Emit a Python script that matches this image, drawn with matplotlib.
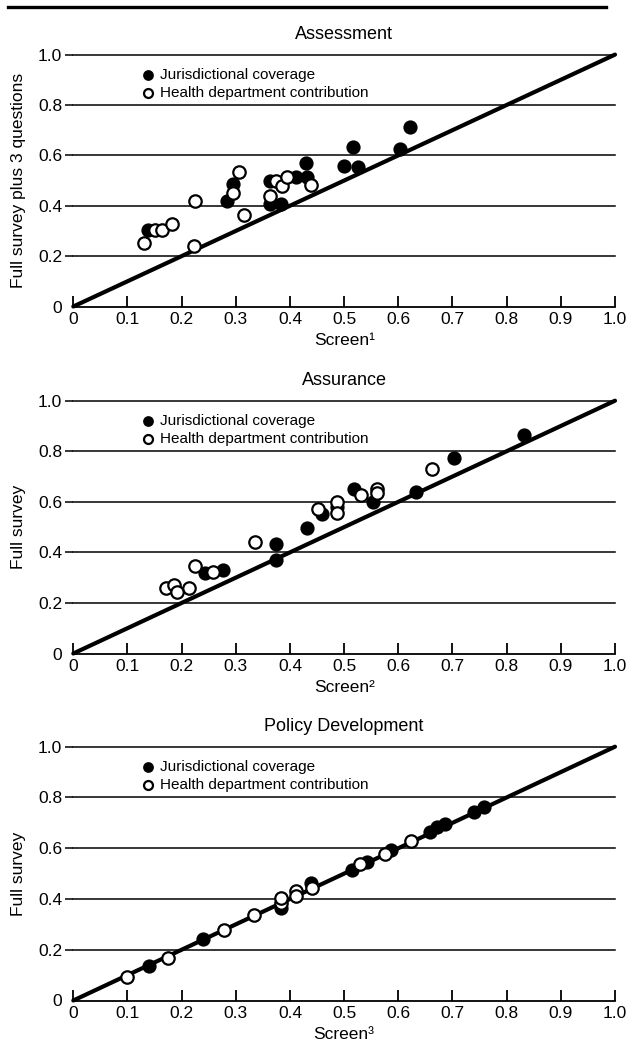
import matplotlib.pyplot as plt

plt.rcParams['font.family'] = ['Liberation Sans', 'DejaVu Sans']

# Assessment
a_jur_x = [0.138, 0.283, 0.295, 0.364, 0.364, 0.383, 0.412, 0.430, 0.431, 0.500, 0.517, 0.525, 0.603, 0.622]
a_jur_y = [0.305, 0.419, 0.485, 0.498, 0.406, 0.406, 0.514, 0.571, 0.514, 0.558, 0.632, 0.553, 0.624, 0.712]
a_hd_x = [0.131, 0.151, 0.163, 0.183, 0.223, 0.225, 0.295, 0.306, 0.315, 0.364, 0.374, 0.385, 0.394, 0.439]
a_hd_y = [0.253, 0.305, 0.305, 0.326, 0.240, 0.419, 0.452, 0.534, 0.365, 0.440, 0.498, 0.477, 0.516, 0.481]

# Assurance
s_jur_x = [0.243, 0.277, 0.374, 0.374, 0.432, 0.460, 0.487, 0.518, 0.553, 0.633, 0.702, 0.832]
s_jur_y = [0.318, 0.331, 0.370, 0.432, 0.496, 0.552, 0.581, 0.651, 0.601, 0.637, 0.773, 0.865]
s_hd_x = [0.171, 0.185, 0.192, 0.214, 0.225, 0.257, 0.335, 0.452, 0.487, 0.487, 0.532, 0.560, 0.560, 0.662]
s_hd_y = [0.258, 0.271, 0.245, 0.258, 0.348, 0.324, 0.440, 0.571, 0.601, 0.555, 0.628, 0.651, 0.634, 0.731]

# Policy Development
p_jur_x = [0.140, 0.239, 0.383, 0.438, 0.514, 0.542, 0.586, 0.658, 0.671, 0.686, 0.740, 0.758]
p_jur_y = [0.134, 0.242, 0.365, 0.461, 0.514, 0.546, 0.593, 0.665, 0.682, 0.695, 0.744, 0.761]
p_hd_x = [0.099, 0.174, 0.279, 0.333, 0.383, 0.383, 0.411, 0.412, 0.440, 0.529, 0.575, 0.623]
p_hd_y = [0.094, 0.167, 0.279, 0.336, 0.385, 0.405, 0.431, 0.411, 0.442, 0.537, 0.576, 0.629]

titles = ['Assessment', 'Assurance', 'Policy Development']
ylabels = ['Full survey plus 3 questions', 'Full survey', 'Full survey']
xlabels = ['Screen\u00b9', 'Screen\u00b2', 'Screen\u00b3']
xticks = [0, 0.1, 0.2, 0.3, 0.4, 0.5, 0.6, 0.7, 0.8, 0.9, 1.0]
xticklabels = ['0', '0.1', '0.2', '0.3', '0.4', '0.5', '0.6', '0.7', '0.8', '0.9', '1.0']
yticks = [0, 0.2, 0.4, 0.6, 0.8, 1.0]
yticklabels = ['0', '0.2', '0.4', '0.6', '0.8', '1.0']

data = [(a_jur_x, a_jur_y, a_hd_x, a_hd_y),
        (s_jur_x, s_jur_y, s_hd_x, s_hd_y),
        (p_jur_x, p_jur_y, p_hd_x, p_hd_y)]

fig = plt.figure(figsize=(6.38, 10.60), dpi=100)
W, H = 638, 1060
left, right = 73.3, 615
panels = [(54.6, 306.5), (400.7, 653.5), (746.7, 1000.5)]  # top, bottom in px

# rule across the top of the figure
fig.add_artist(plt.Line2D([0.012, 0.95], [1 - 7 / H, 1 - 7 / H], color='black', lw=2.4))

for i, (top, bot) in enumerate(panels):
    ax = fig.add_axes([left / W, 1 - bot / H, (right - left) / W, (bot - top) / H])
    jx, jy, hx, hy = data[i]
    for yv in yticks[1:]:
        ax.axhline(yv, color='black', lw=1.1, zorder=1, clip_on=False)
    ax.plot([0, 1], [0, 1], color='black', lw=3, zorder=2, clip_on=False, solid_capstyle='round')
    ax.scatter(jx, jy, s=80, facecolor='black', edgecolor='black', linewidths=1.3, zorder=3,
               label='Jurisdictional coverage', clip_on=False)
    ax.scatter(hx, hy, s=80, facecolor='white', edgecolor='black', linewidths=1.6, zorder=4,
               label='Health department contribution', clip_on=False)
    ax.set_xlim(0, 1)
    ax.set_ylim(0, 1)
    for s in ['top', 'right', 'left']:
        ax.spines[s].set_visible(False)
    ax.spines['bottom'].set_linewidth(1.3)
    ax.set_xticks(xticks)
    ax.set_xticklabels(xticklabels, fontsize=12.5)
    ax.set_yticks(yticks)
    ax.set_yticklabels(yticklabels, fontsize=12.5)
    ax.tick_params(axis='x', direction='in', length=8, width=1.3, pad=4)
    ax.tick_params(axis='y', direction='out', length=6, width=1.1, pad=2)
    ax.yaxis.get_major_ticks()[0].tick1line.set_visible(False)
    ax.set_title(titles[i], fontsize=13, pad=11)
    ax.set_xlabel(xlabels[i], fontsize=12.5, labelpad=4)
    ax.set_ylabel(ylabels[i], fontsize=12.5)
    ax.yaxis.set_label_coords(-0.088, 0.5)
    ax.legend(loc='upper left', bbox_to_anchor=(0.113, 0.978), frameon=False, fontsize=11,
              handlelength=0.8, handletextpad=0.4, labelspacing=0.25, borderpad=0,
              markerscale=0.72)

fig.savefig('out.png', dpi=100)
